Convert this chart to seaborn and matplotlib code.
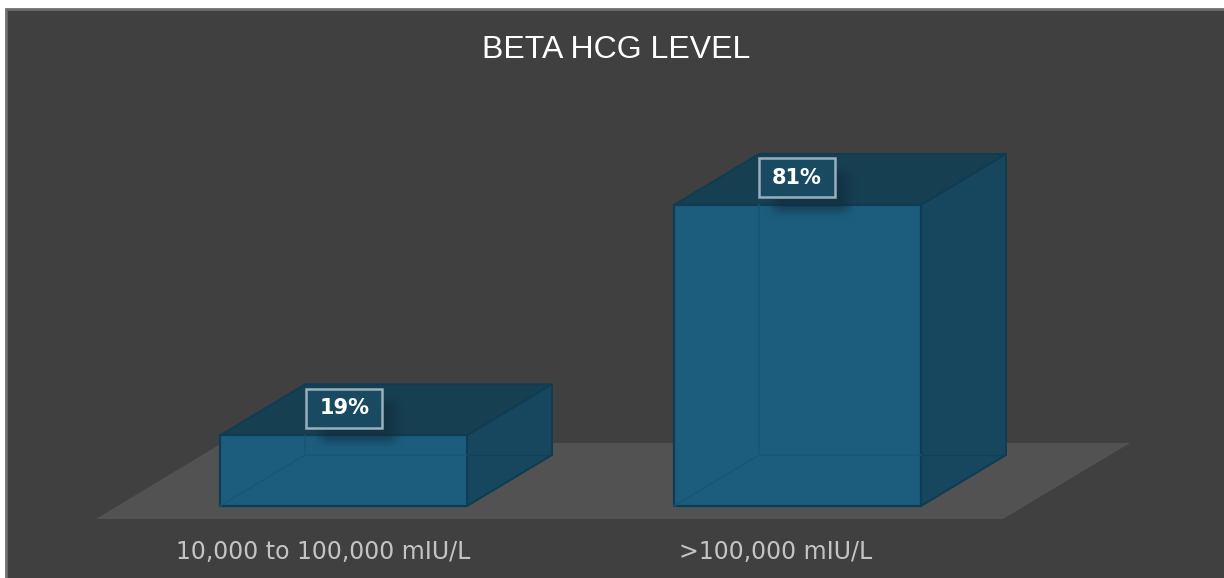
import numpy as np
import pandas as pd
import seaborn as sns
import matplotlib
matplotlib.use("Agg")
import matplotlib.pyplot as plt
from matplotlib.patches import Polygon, Rectangle

# Chart data
levels = ["10,000 to 100,000 mIU/L", ">100,000 mIU/L"]
shares = [19, 81]
chart_title = "BETA HCG LEVEL"

# Palette
PANEL = "#404040"
BORDER = "#6e6e6e"
FLOOR = "#525252"
FRONT = "#1c5d7e"
TOP = "#173f52"
SIDE = "#16475f"
EDGE = "#0f3c52"
INNER = "#195674"

W, H = 1224, 578
UNIT_X = 454.0          # pixels between categories
UNIT_Y = 3.716          # pixels per percentage point
BAR_W = 247 / UNIT_X
DX = 85 / UNIT_X        # depth offset of the box
DY = 51 / UNIT_Y
BOX_W = 76 / UNIT_X     # value label frame
BOX_H = 39 / UNIT_Y

sns.set_theme(style="white")
plt.rcParams["font.family"] = ["DejaVu Sans"]

fig = plt.figure(figsize=(W / 100, H / 100), dpi=100, facecolor="white")
ax = fig.add_axes([0, 0, 1, 1])
x0_px, y0_px = 343.5, 506.0
xlim = (-x0_px / UNIT_X, (W - x0_px) / UNIT_X)
ylim = (-(H - y0_px) / UNIT_Y, y0_px / UNIT_Y)


def px(x, y):
    """Convert pixel positions (origin top-left) to data coordinates."""
    return (x - x0_px) / UNIT_X, (y0_px - y) / UNIT_Y


# Panel and floor
ax.add_patch(Rectangle(px(6, H + 5), (W + 5 - 6) / UNIT_X, (H + 5 - 9) / UNIT_Y,
                       facecolor=PANEL, edgecolor=BORDER, linewidth=2.0, zorder=0))
ax.add_patch(Polygon([px(96, 519), px(1003, 519), px(1130, 443), px(222, 443)],
                     closed=True, facecolor=FLOOR, edgecolor="none", zorder=1))

# Front faces come from the seaborn bar layer
frame = pd.DataFrame({"level": levels, "share": shares})
sns.barplot(data=frame, x="level", y="share", ax=ax, width=BAR_W, color=FRONT,
            saturation=1, edgecolor=EDGE, linewidth=1.6, zorder=5)

for i, value in enumerate(shares):
    left, right = i - BAR_W / 2, i + BAR_W / 2
    # Top and side faces of the box
    ax.add_patch(Polygon([(left, value), (right, value), (right + DX, value + DY), (left + DX, value + DY)],
                         closed=True, facecolor=TOP, edgecolor=EDGE, linewidth=1.4, zorder=4))
    ax.add_patch(Polygon([(right, 0), (right + DX, DY), (right + DX, value + DY), (right, value)],
                         closed=True, facecolor=SIDE, edgecolor=EDGE, linewidth=1.4, zorder=4))
    # Back edges seen through the translucent box
    ax.plot([left, left + DX, left + DX], [0, DY, value], color=INNER, lw=1.2, zorder=6)
    ax.plot([left + DX, right], [DY, DY], color=INNER, lw=1.2, zorder=6)
    ax.plot([right, right + DX], [DY, DY], color=EDGE, lw=0.8, alpha=0.6, zorder=6)

    # Label anchor sits on the top face of the box
    cx = i + 0.002 - 0.004 * i
    cy = value + DY * 0.53

    # Soft shadow falling down and to the right of the label
    yy, xx = np.mgrid[-1:1:110j, -1:1:180j]
    soft_x = np.clip((1 - np.abs(xx)) / 0.42, 0, 1)
    soft_y = np.clip((1 - np.abs(yy)) / 0.55, 0, 1)
    soft = (soft_x * soft_x * (3 - 2 * soft_x)) * (soft_y * soft_y * (3 - 2 * soft_y))
    shade = np.zeros(xx.shape + (4,))
    shade[..., :3] = (0.06, 0.16, 0.22)
    shade[..., 3] = 0.5 * soft
    ax.imshow(shade, extent=(cx - 34 / UNIT_X, cx + 62 / UNIT_X,
                             cy - 42 / UNIT_Y, cy + 14 / UNIT_Y),
              aspect="auto", zorder=7, interpolation="bilinear")

    # Boxed value label
    ax.add_patch(Rectangle((cx - BOX_W / 2, cy - BOX_H / 2), BOX_W, BOX_H,
                           facecolor="#1a4a62", edgecolor="#98b0bc", linewidth=1.8, zorder=8))
    ax.text(cx, cy, f"{value}%", color="white", fontsize=15,
            fontweight="bold", ha="center", va="center", zorder=9)

ax.set_xlim(xlim)
ax.set_ylim(ylim)
ax.set_xlabel("")
ax.set_ylabel("")
ax.set_yticks([])
ax.set_xticks([])
for spine in ax.spines.values():
    spine.set_visible(False)

# Category labels and title
label_x = [323, 776]
for i, name in enumerate(levels):
    ax.text(*px(label_x[i], 552), name, color="#c4c4c4", fontsize=17,
            ha="center", va="center", zorder=9)
ax.text(*px(616, 50), chart_title, color="white", fontsize=23,
        family="Liberation Sans", ha="center", va="center", zorder=9)

fig.savefig("out.png", dpi=100, facecolor="white")
